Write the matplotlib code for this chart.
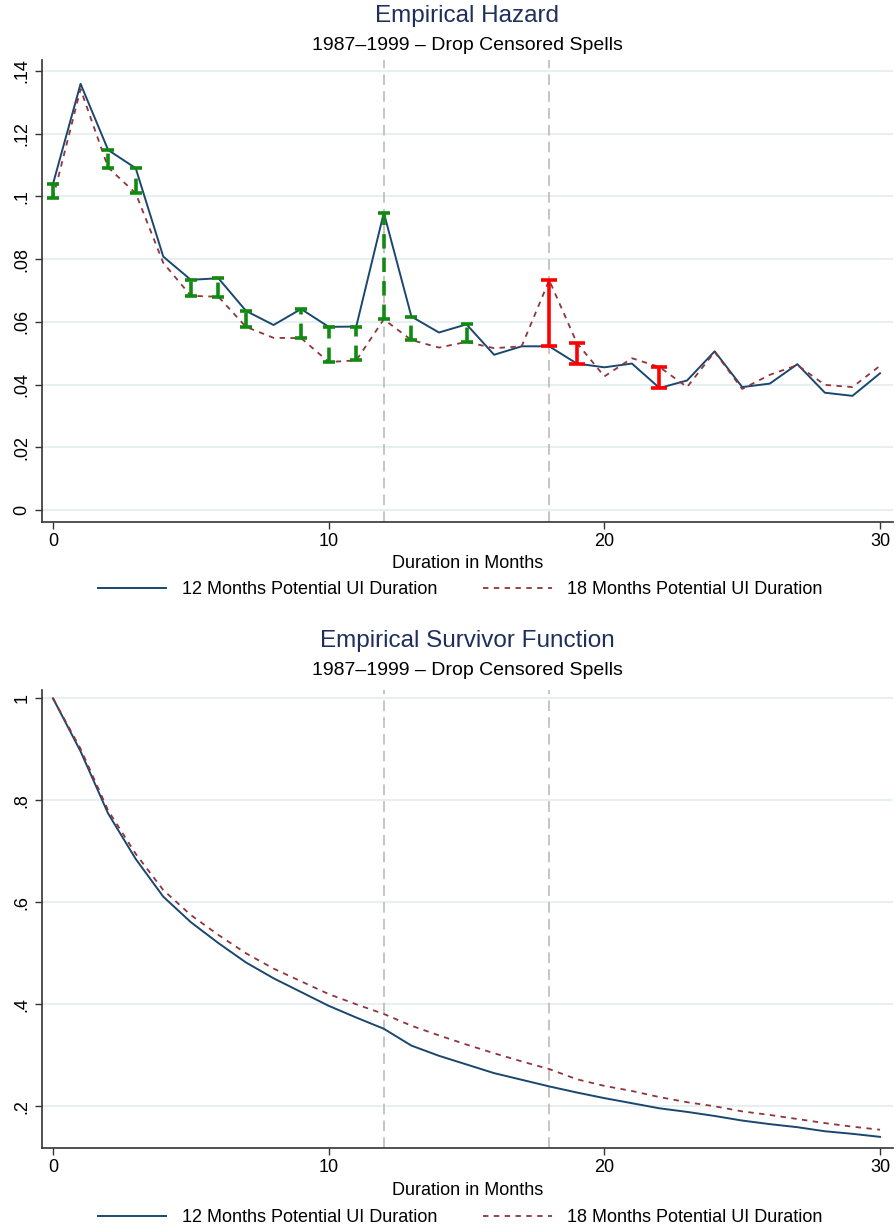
import matplotlib
matplotlib.use("Agg")
import matplotlib.pyplot as plt
from matplotlib.lines import Line2D

plt.rcParams['font.family'] = ['Liberation Sans', 'DejaVu Sans']

months = list(range(31))
hazard_12 = [0.104, 0.1359, 0.1148, 0.109, 0.0808, 0.0734, 0.0739, 0.0635, 0.059, 0.0641,
             0.0584, 0.0585, 0.0948, 0.0617, 0.0566, 0.0592, 0.0495, 0.0522, 0.0522, 0.0467,
             0.0455, 0.0467, 0.0389, 0.0413, 0.0506, 0.0392, 0.0403, 0.0465, 0.0374, 0.0364,
             0.0436]
hazard_18 = [0.0995, 0.1342, 0.1092, 0.101, 0.0788, 0.0683, 0.068, 0.0584, 0.0549, 0.0548,
             0.0472, 0.0477, 0.0608, 0.0542, 0.0518, 0.0536, 0.0516, 0.0522, 0.0733, 0.0533,
             0.0426, 0.0484, 0.0456, 0.0392, 0.0504, 0.0386, 0.0431, 0.0462, 0.0399, 0.0392,
             0.046]
survivor_12 = [1.0, 0.896, 0.774, 0.685, 0.611, 0.561, 0.520, 0.482, 0.451, 0.424,
               0.397, 0.374, 0.352, 0.319, 0.299, 0.282, 0.265, 0.252, 0.239, 0.227,
               0.216, 0.206, 0.196, 0.189, 0.181, 0.172, 0.165, 0.159, 0.151, 0.146,
               0.140]
survivor_18 = [1.0, 0.901, 0.780, 0.695, 0.624, 0.575, 0.536, 0.500, 0.470, 0.445,
               0.420, 0.400, 0.381, 0.358, 0.339, 0.321, 0.304, 0.288, 0.273, 0.253,
               0.240, 0.230, 0.218, 0.208, 0.200, 0.190, 0.183, 0.175, 0.167, 0.160,
               0.154]
green_months = [0, 2, 3, 5, 6, 7, 9, 10, 11, 12, 13, 15]
red_months = [18, 19, 22]
vline_months = [12, 18]
hazard_ticks = [0, 0.02, 0.04, 0.06, 0.08, 0.10, 0.12, 0.14]
hazard_ticklabels = ['0', '.02', '.04', '.06', '.08', '.1', '.12', '.14']
surv_ticks = [0.2, 0.4, 0.6, 0.8, 1.0]
surv_ticklabels = ['.2', '.4', '.6', '.8', '1']
x_ticks = [0, 10, 20, 30]
label_12 = '12 Months Potential UI Duration'
label_18 = '18 Months Potential UI Duration'

W, H = 896, 1232
fig = plt.figure(figsize=(W / 100, H / 100), dpi=100)

BLUE = '#1a476f'
MAROON = '#90353b'
GREEN = '#118a11'
RED = '#ff0000'
GRID = '#e8eff1'
TITLE_C = '#1e2f5c'
FS = 13


def px_axes(left, top, right, bottom):
    return fig.add_axes([left / W, 1 - bottom / H, (right - left) / W, (bottom - top) / H])


def style(ax, yticks, yticklabels, ylim):
    ax.set_xlim(-0.41, 30.47)
    ax.set_ylim(*ylim)
    ax.set_yticks(yticks)
    ax.set_yticklabels(yticklabels, rotation=90, va='center', fontsize=FS)
    ax.set_xticks(x_ticks)
    ax.set_xticklabels([str(t) for t in x_ticks], fontsize=FS)
    ax.tick_params(direction='out', length=5, width=1, colors='#333333', labelcolor='black', pad=3)
    for s in ['top', 'right']:
        ax.spines[s].set_visible(False)
    for s in ['left', 'bottom']:
        ax.spines[s].set_color('#333333')
        ax.spines[s].set_linewidth(1.2)
    ax.grid(axis='y', color=GRID, linewidth=1.5)
    ax.set_axisbelow(True)
    for m in vline_months:
        ax.axvline(m, color='#b5b5b5', linestyle=(0, (7, 4)), linewidth=1.1, zorder=1)
    ax.set_xlabel('Duration in Months', fontsize=FS, labelpad=4)


# ---- Top: hazard ----
ax1 = px_axes(41.7, 60, 893, 521.7)
style(ax1, hazard_ticks, hazard_ticklabels, (-0.00373, 0.1435))
ax1.plot(months, hazard_12, color=BLUE, lw=1.4, zorder=3)
ax1.plot(months, hazard_18, color=MAROON, lw=1.3, linestyle=(0, (3, 3)), zorder=3)
for m in green_months:
    lo, hi = sorted([hazard_12[m], hazard_18[m]])
    ax1.vlines(m, lo, hi, colors=GREEN, linestyles=(0, (4, 2.5)), lw=2.6, zorder=4)
    ax1.plot([m, m], [lo, hi], ls='none', marker='_', ms=9, mew=2.6, color=GREEN, zorder=4)
for m in red_months:
    lo, hi = sorted([hazard_12[m], hazard_18[m]])
    ax1.vlines(m, lo, hi, colors=RED, lw=2.6, zorder=4)
    ax1.plot([m, m], [lo, hi], ls='none', marker='_', ms=11, mew=2.6, color=RED, zorder=4)

fig.text(467 / W, 1 - 16 / H, 'Empirical Hazard', ha='center', va='center', fontsize=17.5, color=TITLE_C)
fig.text(467 / W, 1 - 45 / H, '1987\u20131999 \u2013 Drop Censored Spells', ha='center', va='center', fontsize=14)

# ---- Bottom: survivor ----
ax2 = px_axes(41.7, 690, 893, 1148.3)
style(ax2, surv_ticks, surv_ticklabels, (0.1176, 1.0163))
ax2.plot(months, survivor_12, color=BLUE, lw=1.4, zorder=3)
ax2.plot(months, survivor_18, color=MAROON, lw=1.3, linestyle=(0, (3, 3)), zorder=3)

fig.text(467 / W, 1 - 641 / H, 'Empirical Survivor Function', ha='center', va='center', fontsize=17.5, color=TITLE_C)
fig.text(467 / W, 1 - 671 / H, '1987\u20131999 \u2013 Drop Censored Spells', ha='center', va='center', fontsize=14)

handles = [Line2D([], [], color=BLUE, lw=1.4),
           Line2D([], [], color=MAROON, lw=1.3, linestyle=(0, (3, 3)))]
for ypx in (590, 1218):
    fig.legend(handles, [label_12, label_18], loc='center', bbox_to_anchor=(460 / W, 1 - ypx / H),
               ncol=2, frameon=False, fontsize=FS, handlelength=3.8, columnspacing=2.55,
               handletextpad=0.85)

fig.savefig('out.png', dpi=100, facecolor='white')
